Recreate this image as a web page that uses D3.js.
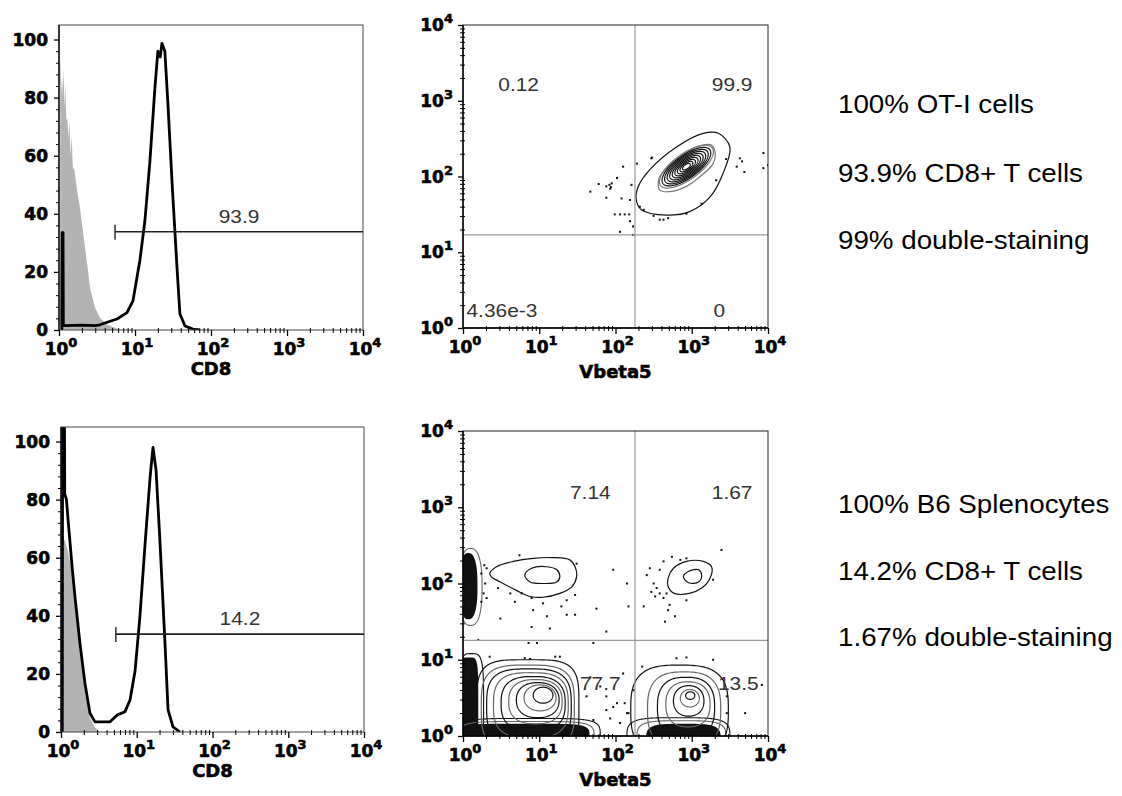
<!DOCTYPE html>
<html><head><meta charset="utf-8">
<script src="https://cdn.jsdelivr.net/npm/d3@7"></script>
<style>body{margin:0;background:#fff}svg{display:block}</style>
</head><body>
<svg id="c" width="1122" height="796"></svg>
<script>
// ---------------- DATA ----------------
const decadeTicks = [1, 10, 100, 1000, 10000];
const decadeLabels = ["0", "1", "2", "3", "4"];
const countTicks = [0, 20, 40, 60, 80, 100];
const countLabels = ["0", "20", "40", "60", "80", "100"];

// Histograms: [CD8 intensity, % of max]
const otiIsotype = [[1.03,0],[1.04,95],[1.08,82],[1.10,88],[1.12,80],[1.15,90],[1.18,76],[1.21,85],[1.25,72],[1.29,73],[1.33,66],[1.37,72],[1.42,60],[1.47,67],[1.52,56],[1.60,55],[1.71,49],[1.89,42],[2.09,33],[2.31,24],[2.56,14.6],[2.98,7.7],[3.46,4.2],[4.24,1.9],[5.46,0.8],[6.3,0]];
const otiCD8 = [[1.09,0],[1.10,33.5],[1.13,33.5],[1.14,1.5],[2.0,1.7],[3.0,1.5],[3.46,1.8],[4.7,3],[5.8,3.8],[7.85,6],[9.4,10],[11.6,24],[13.5,37.6],[15.7,58],[18.3,83.5],[20.0,96],[21.5,94],[22.6,98.7],[24.7,96],[27.1,78],[30.7,51],[35.7,21.5],[39,5.5],[45.5,1.4],[57.8,0.3],[70,0]];
const b6Isotype = [[1.03,0],[1.04,66],[1.13,66],[1.24,62],[1.40,55],[1.53,45],[1.78,28],[2.07,14],[2.41,5],[2.81,1.5],[3.2,0]];
const b6CD8 = [[1.04,0],[1.05,110],[1.11,110],[1.12,82],[1.18,80],[1.24,73],[1.40,57],[1.53,46.5],[1.78,30.5],[2.07,16.8],[2.41,6.5],[2.81,3.5],[4.43,3.5],[5.49,5.8],[7.0,7],[8.15,11],[9.5,21],[11.0,39.6],[12.9,65],[15.0,87.7],[16.4,98],[18.0,90],[20.3,65],[23.6,30.5],[25.9,7.6],[30.1,1.8],[37.2,0]];
// histogram gates: [lower bound, upper bound, level %], label
const otiGate = [5.46, 10000, 33.8];
const b6Gate = [5.3, 10000, 33.7];
const otiGateLabel = "93.9";
const b6GateLabel = "14.2";

// Quadrant gates [Vbeta5, CD8]
const otiQuad = [180, 17];
const b6Quad = [180, 18];
// Quadrant labels: [text, log10 Vbeta5, log10 CD8]
const otiQuadLabels = [["0.12",0.73,3.22],["99.9",3.53,3.22],["4.36e-3",0.51,0.24],["0",3.36,0.24]];
const b6QuadLabels = [["7.14",1.67,3.2],["1.67",3.53,3.2],["77.7",1.80,0.70],["13.5",3.61,0.70]];

// Contours, in log10 units (Vbeta5, CD8)
const otiOuterRing = [[2.27,1.71],[2.34,1.56],[2.67,1.49],[2.98,1.54],[3.24,1.73],[3.41,2.04],[3.50,2.39],[3.35,2.57],[3.15,2.57],[2.80,2.39],[2.45,2.09],[2.30,1.87]];
const otiSecondRing = [[2.56,1.89],[2.58,2.00],[2.80,2.22],[3.02,2.37],[3.24,2.42],[3.30,2.35],[3.28,2.17],[3.11,2.00],[2.93,1.87],[2.71,1.80],[2.58,1.82]];
// [centre x, centre y, half major, half minor, tilt deg]
const otiCoreRings = [[2.93,2.13,0.42,0.17,36],[2.93,2.13,0.38,0.15,36],[2.93,2.13,0.34,0.135,36],[2.93,2.13,0.30,0.12,36],[2.93,2.13,0.26,0.105,36],[2.93,2.13,0.22,0.09,36],[2.93,2.13,0.18,0.075,36],[2.93,2.13,0.14,0.06,36],[2.93,2.13,0.10,0.045,36],[2.93,2.13,0.06,0.03,36]];
const otiEvents = [[1.67,1.80],[1.78,1.90],[1.92,1.89],[1.94,1.86],[2.28,2.17],[2.10,2.13],[2.47,2.24],[1.95,1.91],[1.88,1.87],[1.93,1.84],[2.02,1.98],[2.21,1.89],[2.08,1.71],[1.88,1.72],[2.19,1.69],[1.99,1.50],[2.06,1.50],[2.12,1.50],[2.18,1.50],[2.19,1.41],[2.23,1.34],[2.06,1.27],[2.23,1.23],[2.32,1.60],[2.37,1.56],[2.58,1.43],[2.63,1.43],[2.69,1.45],[2.50,1.48],[3.13,1.64],[3.32,1.95],[3.45,2.23],[3.63,2.24],[3.66,2.20],[3.69,2.06],[3.59,2.13],[3.94,2.31],[3.94,2.11],[4.00,2.15],[2.48,2.25],[2.93,1.51]];

const b6PopA = [[0.35,2.13],[0.44,2.22],[0.66,2.29],[0.92,2.33],[1.18,2.34],[1.40,2.31],[1.47,2.22],[1.49,2.09],[1.43,1.96],[1.27,1.87],[1.05,1.82],[0.88,1.83],[0.70,1.91],[0.49,2.02],[0.38,2.08]];
const b6PopAInner = [[0.81,2.11],[0.90,2.20],[1.10,2.22],[1.23,2.18],[1.27,2.09],[1.23,2.02],[1.05,2.00],[0.88,2.02]];
const b6PopB = [[2.69,2.07],[2.76,2.20],[2.93,2.29],[3.15,2.29],[3.26,2.22],[3.24,2.07],[3.13,1.94],[2.97,1.87],[2.77,1.87],[2.69,1.96]];
const b6PopBInner = [[2.89,2.09],[2.96,2.16],[3.09,2.18],[3.13,2.11],[3.09,2.02],[2.96,2.01]];
// rounded-box rings: [x0, x1, y0, y1, squareness]
const b6PopCRings = [[0.18,1.52,-0.25,1.00,4],[0.24,1.46,-0.18,0.93,3.5],[0.31,1.42,-0.10,0.88,3.2],[0.40,1.38,-0.02,0.83,3],[0.50,1.34,0.07,0.78,2.7],[0.60,1.30,0.16,0.74,2.5],[0.70,1.26,0.24,0.70,2.3],[0.80,1.22,0.33,0.67,2.1],[0.92,1.18,0.43,0.64,2]];
const b6PopDRings = [[2.20,3.48,-0.25,0.93,3],[2.42,3.38,-0.15,0.84,2.8],[2.55,3.30,-0.02,0.77,2.6],[2.66,3.24,0.12,0.71,2.4],[2.76,3.16,0.26,0.66,2.2],[2.85,3.10,0.38,0.61,2],[2.92,3.04,0.48,0.58,2]];
const b6BandOutlines = [[-0.05,0.27,-0.3,1.08,4],[-0.05,0.25,1.45,2.46,2.5],[-0.05,1.80,-0.3,0.23,5],[-0.05,1.72,-0.3,0.19,5],[2.15,3.50,-0.3,0.24,4],[2.28,3.45,-0.3,0.20,4]];
const b6DenseBands = [[-0.05,0.20,-0.3,1.03,5],[-0.05,0.19,1.53,2.40,2.5],[-0.05,1.66,-0.3,0.16,6],[2.40,3.38,-0.3,0.16,4]];
const b6Events = [[0.74,2.37],[0.28,2.24],[0.31,2.20],[0.24,2.13],[0.29,2.00],[0.27,1.87],[0.31,1.81],[0.24,1.76],[0.46,1.94],[0.62,1.87],[0.68,1.76],[0.77,1.87],[0.90,1.81],[1.36,1.78],[1.47,1.85],[1.49,2.26],[1.97,2.18],[1.29,1.70],[0.92,1.65],[1.05,1.74],[1.10,1.57],[1.36,1.59],[0.49,1.54],[0.90,1.43],[1.14,1.41],[1.88,1.37],[1.75,1.67],[1.47,1.59],[0.86,1.22],[0.97,1.22],[1.71,1.22],[0.20,1.26],
 [0.81,1.02],[0.88,1.01],[1.21,1.04],[1.27,1.04],[0.35,1.04],[1.88,0.52],[1.93,0.23],[2.02,0.43],[1.80,0.65],[1.88,0.34],[1.97,0.38],[2.06,0.17],[2.15,0.30],[1.62,0.52],[1.71,0.21],[1.67,0.77],
 [3.39,2.44],[2.63,2.29],[2.45,2.20],[2.58,2.18],[2.41,2.11],[2.15,2.00],[2.50,2.00],[2.54,1.94],[2.47,1.89],[2.58,1.87],[2.52,1.83],[2.63,1.81],[2.67,1.87],[2.71,1.72],[2.69,1.65],[2.78,1.57],[2.65,1.50],[2.93,1.78],[3.28,2.05],[2.17,1.70],[2.37,1.70],[2.74,2.35],[2.85,2.31],[2.93,2.33],
 [2.80,1.02],[2.93,1.03],[2.35,0.91],[2.10,0.82],[2.24,0.60],[2.12,0.43],[2.17,0.30],[3.46,0.52],[3.70,0.30],[3.46,0.30],[3.92,0.67],[3.28,1.00]];

const otiNotes = ["100% OT-I cells", "93.9% CD8+ T cells", "99% double-staining"];
const b6Notes = ["100% B6 Splenocytes", "14.2% CD8+ T cells", "1.67% double-staining"];

// ---------------- DRAWING ----------------
const svg = d3.select("#c");
const defs = svg.append("defs");
const TICKF = "'DejaVu Sans', sans-serif";
const TEXTF = "'Liberation Sans', Arial, sans-serif";
const minorTicks = [];
for (let d = 1; d < 1e4; d *= 10) for (let m = 2; m <= 9; m++) minorTicks.push(d * m);
const P = v => Math.pow(10, v);

function heavy(sel) {
  return sel.attr("font-family", TICKF).attr("font-weight", "bold").attr("fill", "#000")
    .attr("stroke", "#000").attr("stroke-width", 0.6);
}
function clip(id, x0, y0, w, h) {
  defs.append("clipPath").attr("id", id).append("rect").attr("x", x0).attr("y", y0).attr("width", w).attr("height", h);
  return `url(#${id})`;
}

function xAxis(g, x, yPos, title, titleDy) {
  const a = g.append("g").attr("transform", `translate(0,${yPos})`)
    .call(d3.axisBottom(x).tickValues(decadeTicks).tickSize(6).tickFormat(""));
  a.select(".domain").remove();
  a.selectAll("line").attr("stroke", "#000").attr("stroke-width", 1.3);
  const m = g.append("g").attr("transform", `translate(0,${yPos})`)
    .call(d3.axisBottom(x).tickValues(minorTicks).tickSize(3).tickFormat(""));
  m.select(".domain").remove();
  m.selectAll("line").attr("y1", -2).attr("stroke", "#000");
  heavy(g.selectAll(null).data(decadeTicks).join("text"))
    .attr("x", d => x(d) + 2).attr("y", yPos + 25)
    .attr("text-anchor", "middle").attr("font-size", 17)
    .each(function (d, i) {
      const t = d3.select(this);
      t.append("tspan").text("10");
      t.append("tspan").attr("dy", -8).attr("font-size", 13).text(decadeLabels[i]);
    });
  const [r0, r1] = x.range();
  heavy(g.append("text")).attr("x", (r0 + r1) / 2).attr("y", yPos + titleDy).attr("text-anchor", "middle")
    .attr("font-size", 18).text(title);
}

function histPanel(x, y, iso, stained, gate, gateLabel, id) {
  const g = svg.append("g");
  const [X0, X1] = x.range(); const [Y0, Y1] = y.range();
  const cp = clip(id, X0, Y1, X1 - X0, Y0 - Y1);
  const area = d3.area().x(d => x(d[0])).y0(y(0)).y1(d => y(d[1]));
  const line = d3.line().x(d => x(d[0])).y(d => y(d[1]));
  g.append("path").datum(iso).attr("d", area).attr("fill", "#b3b3b3").attr("clip-path", cp);
  g.append("path").datum(stained).attr("d", line).attr("fill", "none").attr("stroke", "#000")
    .attr("stroke-width", 2.8).attr("stroke-linejoin", "round").attr("clip-path", cp);
  g.append("rect").attr("x", X0).attr("y", Y1).attr("width", X1 - X0).attr("height", Y0 - Y1)
    .attr("fill", "none").attr("stroke", "#444").attr("stroke-width", 1);
  g.append("line").attr("x1", X0).attr("x2", X0).attr("y1", Y1).attr("y2", Y0).attr("stroke", "#000").attr("stroke-width", 1.3);
  // gate
  const gy = y(gate[2]);
  g.append("line").attr("x1", x(gate[0])).attr("x2", x(gate[1])).attr("y1", gy).attr("y2", gy).attr("stroke", "#222").attr("stroke-width", 1.6);
  g.append("line").attr("x1", x(gate[0])).attr("x2", x(gate[0])).attr("y1", gy - 7).attr("y2", gy + 8).attr("stroke", "#222").attr("stroke-width", 1.4);
  const mid = Math.sqrt(gate[0] * gate[1]);
  g.append("text").attr("transform", `translate(${x(mid)},${gy - 9}) scale(1.1,1)`).attr("text-anchor", "middle")
    .attr("font-family", TEXTF).attr("font-size", 19).attr("fill", "#333").text(gateLabel);
  // y axis
  const ya = g.append("g").attr("transform", `translate(${X0},0)`)
    .call(d3.axisLeft(y).tickValues(countTicks).tickSize(5).tickFormat(""));
  ya.select(".domain").remove();
  ya.selectAll("line").attr("stroke", "#000").attr("stroke-width", 1.3);
  const ym = g.append("g").attr("transform", `translate(${X0},0)`)
    .call(d3.axisLeft(y).tickValues(d3.range(4, 104, 4).filter(v => v % 20)).tickSize(3).tickFormat(""));
  ym.select(".domain").remove();
  ym.selectAll("line").attr("stroke", "#000");
  heavy(g.selectAll(null).data(countTicks).join("text"))
    .attr("x", X0 - 11).attr("y", d => y(d) + 6).attr("text-anchor", "end").attr("font-size", 17)
    .text((d, i) => countLabels[i]);
  xAxis(g, x, Y0, "CD8", 45);
}

function dotPanel(x, y, quad, quadLabels, id, drawContours, events) {
  const g = svg.append("g");
  const [X0, X1] = x.range(); const [Y0, Y1] = y.range();
  const cp = clip(id, X0, Y1, X1 - X0, Y0 - Y1);
  const inner = g.append("g").attr("clip-path", cp);
  drawContours(inner, x, y);
  inner.selectAll(null).data(events).join("rect")
    .attr("x", d => x(P(d[0])) - 1).attr("y", d => y(P(d[1])) - 1).attr("width", 2).attr("height", 2).attr("fill", "#111");
  // quadrant lines
  g.append("line").attr("x1", x(quad[0])).attr("x2", x(quad[0])).attr("y1", Y1).attr("y2", Y0).attr("stroke", "#999").attr("stroke-width", 1.2);
  g.append("line").attr("x1", X0).attr("x2", X1).attr("y1", y(quad[1])).attr("y2", y(quad[1])).attr("stroke", "#999").attr("stroke-width", 1.2);
  g.append("rect").attr("x", X0).attr("y", Y1).attr("width", X1 - X0).attr("height", Y0 - Y1)
    .attr("fill", "none").attr("stroke", "#222").attr("stroke-width", 1);
  g.append("line").attr("x1", X0).attr("x2", X0).attr("y1", Y1).attr("y2", Y0).attr("stroke", "#000").attr("stroke-width", 1.4);
  g.append("line").attr("x1", X0).attr("x2", X1).attr("y1", Y0).attr("y2", Y0).attr("stroke", "#000").attr("stroke-width", 1.4);
  g.selectAll(null).data(quadLabels).join("text")
    .attr("transform", d => `translate(${x(P(d[1]))},${y(P(d[2])) + 7}) scale(1.1,1)`)
    .attr("text-anchor", "middle").attr("font-family", TEXTF).attr("font-size", 19).attr("fill", "#333").text(d => d[0]);
  // y axis (log)
  const ya = g.append("g").attr("transform", `translate(${X0},0)`)
    .call(d3.axisLeft(y).tickValues(decadeTicks).tickSize(5).tickFormat(""));
  ya.select(".domain").remove();
  ya.selectAll("line").attr("stroke", "#000").attr("stroke-width", 1.3);
  const ym = g.append("g").attr("transform", `translate(${X0},0)`)
    .call(d3.axisLeft(y).tickValues(minorTicks).tickSize(3).tickFormat(""));
  ym.select(".domain").remove();
  ym.selectAll("line").attr("x1", 2).attr("stroke", "#000");
  heavy(g.selectAll(null).data(decadeTicks).join("text"))
    .attr("x", X0 - 10).attr("y", d => y(d) + 6).attr("text-anchor", "end").attr("font-size", 17)
    .each(function (d, i) {
      const t = d3.select(this);
      t.append("tspan").text("10");
      t.append("tspan").attr("dy", -8).attr("font-size", 13).text(decadeLabels[i]);
    });
  xAxis(g, x, Y0, "Vbeta5", 50);
}

function ringPath(x, y, curve) {
  return d3.line().x(p => x(P(p[0]))).y(p => y(P(p[1]))).curve(curve || d3.curveLinearClosed);
}
function boxRing(b) {
  const [x0, x1, y0, y1, n] = b, cx = (x0 + x1) / 2, cy = (y0 + y1) / 2, rx = (x1 - x0) / 2, ry = (y1 - y0) / 2;
  return d3.range(0, 2 * Math.PI, Math.PI / 90).map(t => {
    const c = Math.cos(t), s = Math.sin(t);
    return [cx + rx * Math.sign(c) * Math.pow(Math.abs(c), 2 / n), cy + ry * Math.sign(s) * Math.pow(Math.abs(s), 2 / n)];
  });
}
function tiltRing(e) {
  const [cx, cy, a, b, deg] = e, r = deg * Math.PI / 180;
  return d3.range(0, 2 * Math.PI, Math.PI / 90).map(t => [
    cx + a * Math.cos(t) * Math.cos(r) - b * Math.sin(t) * Math.sin(r),
    cy + a * Math.cos(t) * Math.sin(r) + b * Math.sin(t) * Math.cos(r)]);
}
const ringColor = i => (i % 2 ? "#666" : "#111");

function otiContours(g, x, y) {
  const smooth = ringPath(x, y, d3.curveCatmullRomClosed);
  const lin = ringPath(x, y);
  g.append("path").attr("d", smooth(otiOuterRing)).attr("fill", "none").attr("stroke", "#111").attr("stroke-width", 1.2);
  g.append("path").attr("d", smooth(otiSecondRing)).attr("fill", "none").attr("stroke", "#777").attr("stroke-width", 1.2);
  g.selectAll(null).data(otiCoreRings).join("path").attr("d", e => lin(tiltRing(e)))
    .attr("fill", "none").attr("stroke", (d, i) => i === 0 ? "#777" : "#111").attr("stroke-width", 1.2);
}
function b6Contours(g, x, y) {
  const smooth = ringPath(x, y, d3.curveCatmullRomClosed);
  const lin = ringPath(x, y);
  g.selectAll(null).data(b6DenseBands).join("path").attr("d", b => lin(boxRing(b))).attr("fill", "#111");
  g.selectAll(null).data(b6BandOutlines).join("path").attr("d", b => lin(boxRing(b)))
    .attr("fill", "none").attr("stroke", (d, i) => ringColor(i)).attr("stroke-width", 1.1);
  g.selectAll(null).data(b6PopCRings).join("path").attr("d", b => lin(boxRing(b)))
    .attr("fill", "none").attr("stroke", (d, i) => ringColor(i)).attr("stroke-width", 1.2);
  g.selectAll(null).data(b6PopDRings).join("path").attr("d", b => lin(boxRing(b)))
    .attr("fill", "none").attr("stroke", (d, i) => ringColor(i)).attr("stroke-width", 1.2);
  [b6PopA, b6PopAInner, b6PopB, b6PopBInner].forEach(r =>
    g.append("path").attr("d", smooth(r)).attr("fill", "none").attr("stroke", "#111").attr("stroke-width", 1.2));
}

// scales
const xHistTop = d3.scaleLog().domain([1, 1e4]).range([59, 363]);
const yHistTop = d3.scaleLinear().domain([0, 105]).range([330, 25]);
const xHistBot = d3.scaleLog().domain([1, 1e4]).range([61, 364]);
const yHistBot = d3.scaleLinear().domain([0, 105]).range([732, 427]);
const xDotTop = d3.scaleLog().domain([1, 1e4]).range([463, 768]);
const yDotTop = d3.scaleLog().domain([1, 1e4]).range([328, 25]);
const xDotBot = d3.scaleLog().domain([1, 1e4]).range([463, 768]);
const yDotBot = d3.scaleLog().domain([1, 1e4]).range([736, 431]);

histPanel(xHistTop, yHistTop, otiIsotype, otiCD8, otiGate, otiGateLabel, "c1");
histPanel(xHistBot, yHistBot, b6Isotype, b6CD8, b6Gate, b6GateLabel, "c2");
dotPanel(xDotTop, yDotTop, otiQuad, otiQuadLabels, "c3", otiContours, otiEvents);
dotPanel(xDotBot, yDotBot, b6Quad, b6QuadLabels, "c4", b6Contours, b6Events);

// side notes
const notesY = { top: [113, 182, 249], bot: [513, 580, 646] };
svg.selectAll(null).data(otiNotes).join("text")
  .attr("transform", (d, i) => `translate(838,${notesY.top[i]}) scale(1.11,1)`)
  .attr("font-family", TEXTF).attr("font-size", 25).attr("fill", "#000").text(d => d);
svg.selectAll(null).data(b6Notes).join("text")
  .attr("transform", (d, i) => `translate(838,${notesY.bot[i]}) scale(1.11,1)`)
  .attr("font-family", TEXTF).attr("font-size", 25).attr("fill", "#000").text(d => d);
</script>
</body></html>
